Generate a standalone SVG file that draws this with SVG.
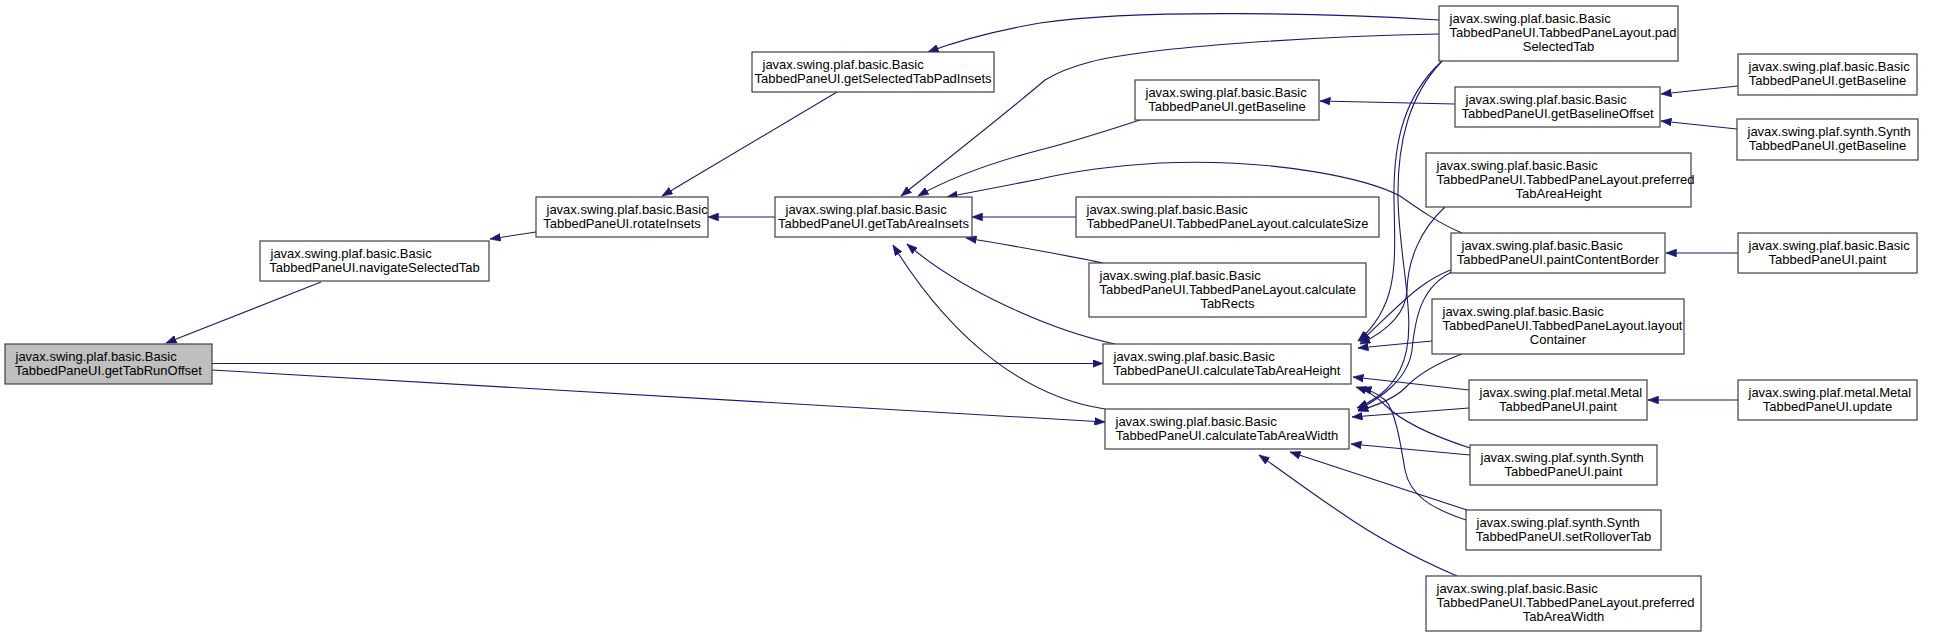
<svg xmlns="http://www.w3.org/2000/svg" width="1941" height="637" viewBox="0 0 1941 637">
<style>
.n rect{fill:#ffffff;stroke:#404040;stroke-width:1.2}
.root rect{fill:#bfbfbf}
.n text{font-family:"Liberation Sans",Arial,sans-serif;font-size:13px;fill:#000000}
.c{text-anchor:middle}
.e path{fill:none;stroke:#191970;stroke-width:1.1}
</style>
<defs>
<marker id="a" markerUnits="userSpaceOnUse" markerWidth="11" markerHeight="8" refX="10.5" refY="4" orient="auto">
<path d="M0,0 L10.5,4 L0,8 Z" fill="#191970" stroke="#191970" stroke-width="0.5"/>
</marker>
</defs>
<rect width="1941" height="637" fill="#ffffff"/>
<g class="e" id="edges">
<path marker-end="url(#a)" d="M321,282 L166,343"/>
<path marker-end="url(#a)" d="M212,363.5 L1103,363.5"/>
<path marker-end="url(#a)" d="M212,370 L1105,422"/>
<path marker-end="url(#a)" d="M536,232 L490,239"/>
<path marker-end="url(#a)" d="M837,92 L662,196"/>
<path marker-end="url(#a)" d="M775,217 L708,217"/>
<path marker-end="url(#a)" d="M1439,20 C1340,14 1140,8 1040,23 C1000,30 960,40 928,52"/>
<path marker-end="url(#a)" d="M1439,34 C1330,36 1150,46 1090,62 C1075,66 1058,72 1045,80 C1010,110 940,165 901,196"/>
<path marker-end="url(#a)" d="M1140,120 C1100,133 1060,145 1040,150 C990,163 950,178 918,196"/>
<path marker-end="url(#a)" d="M1462,233 C1440,224 1420,210 1400,196 C1370,180 1280,158 1160,163 C1110,166 1070,172 1040,179 L947,197"/>
<path marker-end="url(#a)" d="M1076,217 L972,217"/>
<path marker-end="url(#a)" d="M1103,263 C1080,258 1010,245 966,238"/>
<path marker-end="url(#a)" d="M1115,344 C1050,330 960,290 907,244"/>
<path marker-end="url(#a)" d="M1105,409 C1030,398 955,345 893,245"/>
<path marker-end="url(#a)" d="M1455,104 L1320,101"/>
<path marker-end="url(#a)" d="M1738,86 L1661,94"/>
<path marker-end="url(#a)" d="M1737,129 L1661,121"/>
<path marker-end="url(#a)" d="M1738,253 L1666,253"/>
<path marker-end="url(#a)" d="M1738,400 L1648,400"/>
<path marker-end="url(#a)" d="M1442,61 C1405,95 1393,140 1394,200 C1395,260 1400,305 1358,341"/>
<path marker-end="url(#a)" d="M1442,61 C1410,95 1397,140 1398,200 C1400,270 1420,330 1400,370 C1390,390 1375,400 1357,408"/>
<path marker-end="url(#a)" d="M1456,268 C1420,280 1400,305 1360,342"/>
<path marker-end="url(#a)" d="M1456,270 C1420,285 1415,320 1412,350 C1408,380 1380,398 1358,410"/>
<path marker-end="url(#a)" d="M1445,207 C1420,230 1408,260 1407,290 C1406,315 1385,332 1360,344"/>
<path marker-end="url(#a)" d="M1432,341 L1358,348"/>
<path marker-end="url(#a)" d="M1462,354 C1440,362 1420,372 1405,388 C1395,398 1375,406 1358,411"/>
<path marker-end="url(#a)" d="M1469,390 L1353,377"/>
<path marker-end="url(#a)" d="M1469,408 L1352,417"/>
<path marker-end="url(#a)" d="M1470,448 C1430,435 1400,420 1385,405 C1375,395 1365,390 1356,387"/>
<path marker-end="url(#a)" d="M1470,455 L1351,444"/>
<path marker-end="url(#a)" d="M1466,520 C1430,508 1410,495 1405,470 C1400,440 1395,410 1385,400 C1378,394 1370,390 1361,388"/>
<path marker-end="url(#a)" d="M1467,510 L1290,452"/>
<path marker-end="url(#a)" d="M1457,576 C1420,560 1380,540 1340,512 C1310,492 1285,473 1259,455"/>
</g>
<g class="n root" id="n1"><rect x="5" y="344" width="207" height="40"/><text x="15.5" y="360.5">javax.swing.plaf.basic.Basic</text><text class="c" x="108.5" y="374.5">TabbedPaneUI.getTabRunOffset</text></g>
<g class="n" id="n2"><rect x="260" y="241" width="229" height="40"/><text x="270.5" y="257.5">javax.swing.plaf.basic.Basic</text><text class="c" x="374.5" y="271.5">TabbedPaneUI.navigateSelectedTab</text></g>
<g class="n" id="n3"><rect x="536" y="197" width="172" height="40"/><text x="546.5" y="213.5">javax.swing.plaf.basic.Basic</text><text class="c" x="622" y="227.5">TabbedPaneUI.rotateInsets</text></g>
<g class="n" id="n4"><rect x="752" y="52" width="242" height="40"/><text x="762.5" y="68.5">javax.swing.plaf.basic.Basic</text><text class="c" x="873" y="82.5">TabbedPaneUI.getSelectedTabPadInsets</text></g>
<g class="n" id="n5"><rect x="775" y="197" width="197" height="40"/><text x="785.5" y="213.5">javax.swing.plaf.basic.Basic</text><text class="c" x="873.5" y="227.5">TabbedPaneUI.getTabAreaInsets</text></g>
<g class="n" id="n6"><rect x="1135" y="80" width="184" height="40"/><text x="1145.5" y="96.5">javax.swing.plaf.basic.Basic</text><text class="c" x="1227" y="110.5">TabbedPaneUI.getBaseline</text></g>
<g class="n" id="n7"><rect x="1076" y="197" width="303" height="40"/><text x="1086.5" y="213.5">javax.swing.plaf.basic.Basic</text><text class="c" x="1227.5" y="227.5">TabbedPaneUI.TabbedPaneLayout.calculateSize</text></g>
<g class="n" id="n8"><rect x="1089" y="263" width="277" height="54"/><text x="1099.5" y="280">javax.swing.plaf.basic.Basic</text><text x="1099.5" y="294">TabbedPaneUI.TabbedPaneLayout.calculate</text><text class="c" x="1227.5" y="308">TabRects</text></g>
<g class="n" id="n9"><rect x="1103" y="344" width="248" height="40"/><text x="1113.5" y="360.5">javax.swing.plaf.basic.Basic</text><text class="c" x="1227" y="374.5">TabbedPaneUI.calculateTabAreaHeight</text></g>
<g class="n" id="n10"><rect x="1105" y="409" width="244" height="40"/><text x="1115.5" y="425.5">javax.swing.plaf.basic.Basic</text><text class="c" x="1227" y="439.5">TabbedPaneUI.calculateTabAreaWidth</text></g>
<g class="n" id="n11"><rect x="1439" y="6" width="239" height="55"/><text x="1449.5" y="23">javax.swing.plaf.basic.Basic</text><text x="1449.5" y="37">TabbedPaneUI.TabbedPaneLayout.pad</text><text class="c" x="1558.5" y="51">SelectedTab</text></g>
<g class="n" id="n12"><rect x="1455" y="87" width="205" height="40"/><text x="1465.5" y="103.5">javax.swing.plaf.basic.Basic</text><text class="c" x="1557.5" y="117.5">TabbedPaneUI.getBaselineOffset</text></g>
<g class="n" id="n13"><rect x="1426" y="153" width="265" height="54"/><text x="1436.5" y="170">javax.swing.plaf.basic.Basic</text><text x="1436.5" y="184">TabbedPaneUI.TabbedPaneLayout.preferred</text><text class="c" x="1558.5" y="198">TabAreaHeight</text></g>
<g class="n" id="n14"><rect x="1451" y="233" width="214" height="40"/><text x="1461.5" y="249.5">javax.swing.plaf.basic.Basic</text><text class="c" x="1558" y="263.5">TabbedPaneUI.paintContentBorder</text></g>
<g class="n" id="n15"><rect x="1432" y="299" width="252" height="55"/><text x="1442.5" y="316">javax.swing.plaf.basic.Basic</text><text x="1442.5" y="330">TabbedPaneUI.TabbedPaneLayout.layout</text><text class="c" x="1558" y="344">Container</text></g>
<g class="n" id="n16"><rect x="1469" y="380" width="178" height="40"/><text x="1479.5" y="396.5">javax.swing.plaf.metal.Metal</text><text class="c" x="1558" y="410.5">TabbedPaneUI.paint</text></g>
<g class="n" id="n17"><rect x="1470" y="445" width="187" height="40"/><text x="1480.5" y="461.5">javax.swing.plaf.synth.Synth</text><text class="c" x="1563.5" y="475.5">TabbedPaneUI.paint</text></g>
<g class="n" id="n18"><rect x="1466" y="510" width="195" height="40"/><text x="1476.5" y="526.5">javax.swing.plaf.synth.Synth</text><text class="c" x="1563.5" y="540.5">TabbedPaneUI.setRolloverTab</text></g>
<g class="n" id="n19"><rect x="1426" y="576" width="275" height="55"/><text x="1436.5" y="593">javax.swing.plaf.basic.Basic</text><text x="1436.5" y="607">TabbedPaneUI.TabbedPaneLayout.preferred</text><text class="c" x="1563.5" y="621">TabAreaWidth</text></g>
<g class="n" id="n20"><rect x="1738" y="54" width="179" height="41"/><text x="1748.5" y="71">javax.swing.plaf.basic.Basic</text><text class="c" x="1827.5" y="85">TabbedPaneUI.getBaseline</text></g>
<g class="n" id="n21"><rect x="1737" y="119" width="181" height="41"/><text x="1747.5" y="136">javax.swing.plaf.synth.Synth</text><text class="c" x="1827.5" y="150">TabbedPaneUI.getBaseline</text></g>
<g class="n" id="n22"><rect x="1738" y="233" width="179" height="40"/><text x="1748.5" y="249.5">javax.swing.plaf.basic.Basic</text><text class="c" x="1827.5" y="263.5">TabbedPaneUI.paint</text></g>
<g class="n" id="n23"><rect x="1738" y="380" width="179" height="40"/><text x="1748.5" y="396.5">javax.swing.plaf.metal.Metal</text><text class="c" x="1827.5" y="410.5">TabbedPaneUI.update</text></g>
</svg>
